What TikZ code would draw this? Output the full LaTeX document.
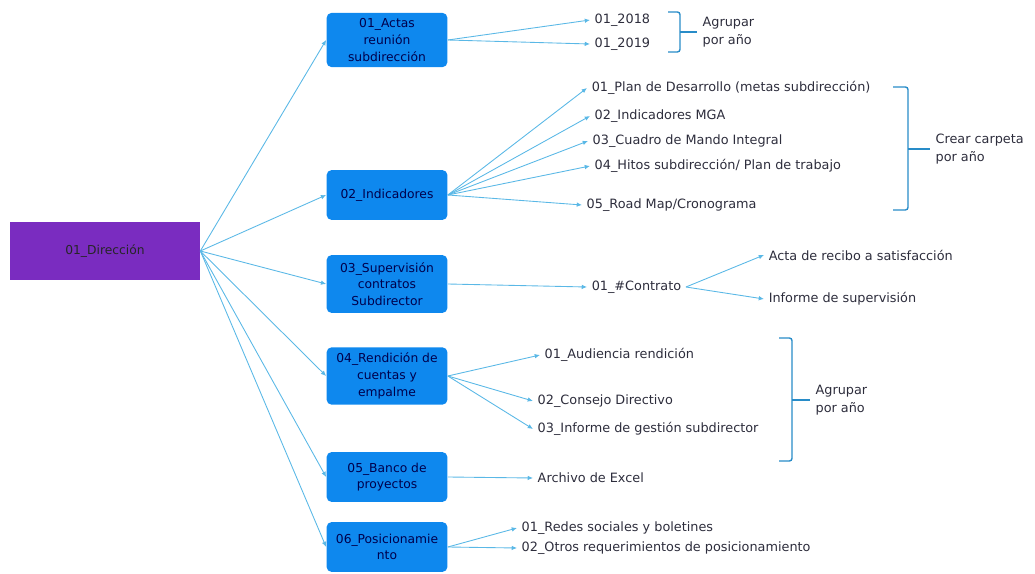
\documentclass[tikz,border=0pt]{standalone}
\usepackage{fontspec}
\setmainfont{DejaVu Sans}
\usetikzlibrary{arrows.meta}
\definecolor{dirpurple}{RGB}{122,44,192}
\definecolor{boxblue}{RGB}{14,136,238}
\definecolor{linkblue}{RGB}{90,184,230}
\definecolor{bracketblue}{RGB}{40,140,200}
\definecolor{leaftext}{RGB}{45,45,60}
\tikzstyle{root}=[rectangle, fill=dirpurple, minimum width=3.8cm, minimum height=1.16cm, font=\fontsize{7}{8}\selectfont, text=black!85]
\tikzstyle{branch}=[rectangle, rounded corners=3pt, fill=boxblue, minimum width=2.42cm, minimum height=1cm, align=center, font=\fontsize{7}{9.5}\selectfont, text=black!70!blue]
\tikzstyle{leaf}=[anchor=west, inner sep=2.5pt, font=\fontsize{7.3}{8}\selectfont, text=leaftext]
\tikzstyle{note}=[anchor=west, align=left, inner sep=3pt, font=\fontsize{7.3}{10.5}\selectfont, text=leaftext]
\tikzstyle{link}=[->, draw=linkblue, line width=0.5pt]
\tikzstyle{brace}=[draw=bracketblue, line width=0.8pt, rounded corners=1.5pt]

\begin{document}
\begin{tikzpicture}[%
    >={Latex[length=3pt,width=2.6pt]},
    x=0.02cm, y=-0.02cm
  ]
      \useasboundingbox (0,0) rectangle (1035,574);

      %Root
      \node[root] (dir) at (105,251) {01\_Dirección};

      %Branches
      \node[branch] (actas) at (387,40) {01\_Actas\\reunión\\subdirección};
      \node[branch] (indic) at (387,195) {02\_Indicadores};
      \node[branch, minimum height=1.16cm] (superv) at (387,284) {03\_Supervisión\\contratos\\Subdirector};
      \node[branch, minimum height=1.06cm] (rendic) at (387,376) {04\_Rendición de\\cuentas y\\empalme};
      \node[branch] (banco) at (387,477) {05\_Banco de\\proyectos};
      \node[branch] (posic) at (387,547) {06\_Posicionamie\\nto};

      \foreach \b in {actas,indic,superv,rendic,banco,posic}
        \draw[link] (dir.east) -- (\b.west);

      %Actas
      \node[leaf] (y18) at (590,20) {01\_2018};
      \node[leaf] (y19) at (590,44) {01\_2019};
      \draw[link] (actas.east) -- (y18.west);
      \draw[link] (actas.east) -- (y19.west);
      \draw[brace] (668,12) -- (680,12) -- (680,52) -- (668,52);
      \coordinate (br1) at (680,32);
      \node[note] (agr1) at (697,32) {Agrupar\\por año};
      \draw[brace] (br1) -- (agr1.west);

      %Indicadores
      \node[leaf] (plan) at (587,88) {01\_Plan de Desarrollo (metas subdirección)};
      \node[leaf] (mga) at (590,116) {02\_Indicadores MGA};
      \node[leaf] (cmi) at (588,141) {03\_Cuadro de Mando Integral};
      \node[leaf] (hitos) at (590,166) {04\_Hitos subdirección/ Plan de trabajo};
      \node[leaf] (road) at (582,205) {05\_Road Map/Cronograma};
      \foreach \l in {plan,mga,cmi,hitos,road}
        \draw[link] (indic.east) -- (\l.west);
      \draw[brace] (893,87) -- (908,87) -- (908,210) -- (893,210);
      \coordinate (br2) at (908,149);
      \node[note] (crear) at (930,149) {Crear carpeta\\por año};
      \draw[brace] (br2) -- (crear.west);

      %Supervision
      \node[leaf] (contr) at (587,287) {01\_\#Contrato};
      \node[leaf] (acta) at (764,255) {Acta de recibo a satisfacción};
      \node[leaf] (informe) at (764,299) {Informe de supervisión};
      \draw[link] (superv.east) -- (contr.west);
      \draw[link] (contr.east) -- (acta.west);
      \draw[link] (contr.east) -- (informe.west);

      %Rendicion
      \node[leaf] (aud) at (540,355) {01\_Audiencia rendición};
      \node[leaf] (consejo) at (533,401) {02\_Consejo Directivo};
      \node[leaf] (infgest) at (533,429) {03\_Informe de gestión subdirector};
      \foreach \l in {aud,consejo,infgest}
        \draw[link] (rendic.east) -- (\l.west);
      \draw[brace] (779,338) -- (792,338) -- (792,461) -- (779,461);
      \coordinate (br3) at (792,400);
      \node[note] (agr2) at (810,400) {Agrupar\\por año};
      \draw[brace] (br3) -- (agr2.west);

      %Banco
      \node[leaf] (excel) at (533,478) {Archivo de Excel};
      \draw[link] (banco.east) -- (excel.west);

      %Posicionamiento
      \node[leaf] (redes) at (517,528) {01\_Redes sociales y boletines};
      \node[leaf] (otros) at (517,548) {02\_Otros requerimientos de posicionamiento};
      \draw[link] (posic.east) -- (redes.west);
      \draw[link] (posic.east) -- (otros.west);
    \end{tikzpicture}
\end{document}
